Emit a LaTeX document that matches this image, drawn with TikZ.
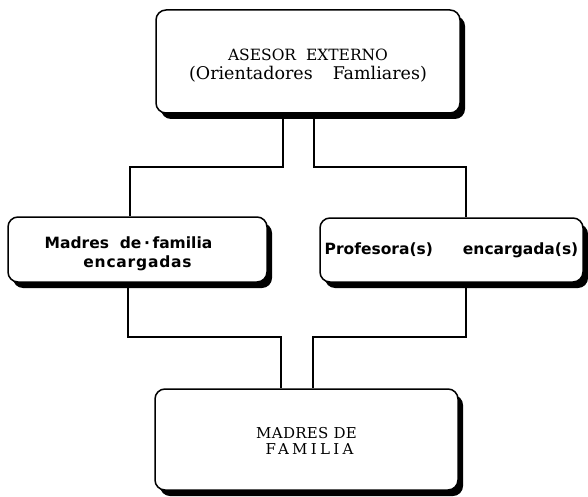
\documentclass[tikz,border=0pt]{standalone}
\usepackage{fontspec}
\setmainfont{DejaVu Serif}
\newfontfamily\midfont{DejaVu Sans}
\usetikzlibrary{shadows,calc}
\begin{document}
\begin{tikzpicture}[x=1pt,y=-1pt,
  boxa/.style={draw=black, line width=1.5pt, rounded corners=10pt, fill=white,
    drop shadow={shadow xshift=5pt, shadow yshift=-6pt, fill=black, opacity=1},
    align=center, inner sep=0pt},
  conn/.style={draw=black, line width=1.2pt}]
\useasboundingbox (0,0) rectangle (588,497);
\node[boxa, minimum width=304pt, minimum height=103pt, font=\fontsize{15.5}{20}\selectfont]
  (top) at (308,61.5) {\raisebox{-5pt}[\height][\depth]{\begin{tabular}{@{}c@{}}ASESOR\ \ EXTERNO\\[-1pt]
  {\fontsize{17.5}{20}\selectfont(Orientadores\hspace{20pt}Famliares)}\end{tabular}}};
\node[boxa, minimum width=259pt, minimum height=65pt, font=\midfont\bfseries\fontsize{15.5}{19}\selectfont]
  (left) at (137.5,249.5) {\raisebox{-5pt}[\height][\depth]{\begin{tabular}{@{}c@{}}Madres\ \ de\,·\,familia\hspace*{18pt}\\
  {\addfontfeature{LetterSpace=5}encargadas}\end{tabular}}};
\node[boxa, minimum width=263pt, minimum height=64pt, font=\midfont\bfseries\fontsize{15.5}{19}\selectfont]
  (right) at (451.5,250) {Profesora(s)\hspace{30pt}encargada(s)};
\node[boxa, minimum width=303pt, minimum height=101pt, font=\fontsize{15}{16.5}\selectfont]
  (bot) at (306.5,439.5) {\raisebox{-3.5pt}[\height][\depth]{\begin{tabular}{@{}c@{}}{\addfontfeature{LetterSpace=2}MADRES DE}\\
  \hspace{6pt}{\addfontfeature{LetterSpace=22}FAMILIA}\end{tabular}}};
\coordinate (ta) at ([xshift=-25pt]top.south);
\coordinate (tb) at ([xshift=6pt]top.south);
\coordinate (la) at ([xshift=-7.5pt]left.north);
\coordinate (lb) at ([xshift=-9.5pt]left.south);
\coordinate (ra) at ([xshift=14.5pt]right.north);
\coordinate (rb) at ([xshift=14.5pt]right.south);
\coordinate (ba) at ([xshift=-25.5pt]bot.north);
\coordinate (bb) at ([xshift=6.5pt]bot.north);
\coordinate (u1) at (0,167);
\coordinate (u2) at (0,337);
\draw[conn] (ta) |- (u1 -| la) -- (la);
\draw[conn] (tb) |- (u1 -| ra) -- (ra);
\draw[conn] (lb) |- (u2 -| ba) -- (ba);
\draw[conn] (rb) |- (u2 -| bb) -- (bb);
\end{tikzpicture}
\end{document}
